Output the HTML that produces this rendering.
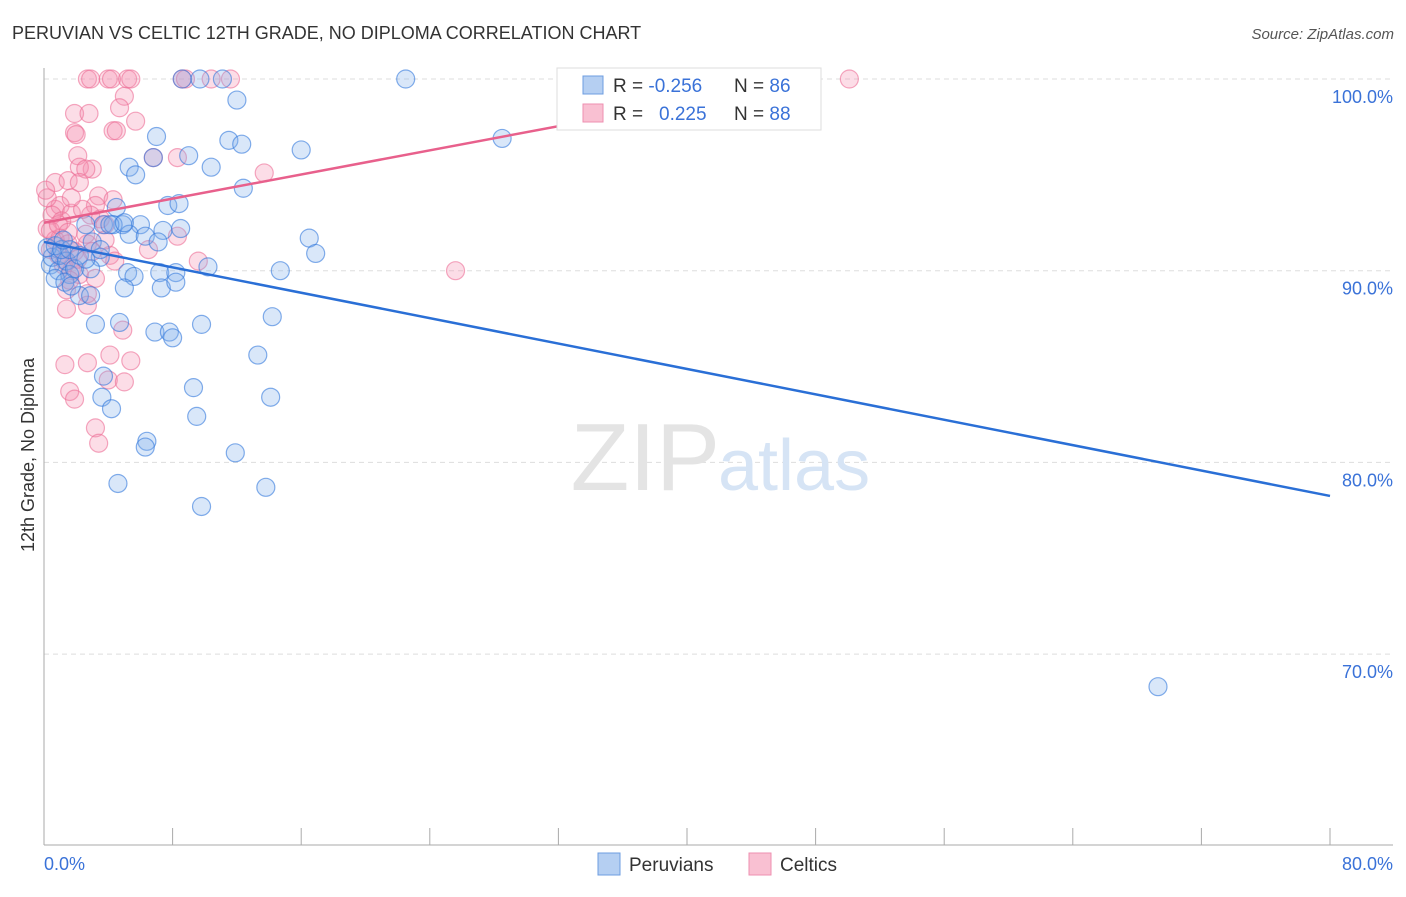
<!DOCTYPE html>
<html><head><meta charset="utf-8"><style>
body{margin:0;background:#fff;font-family:"Liberation Sans",sans-serif;}
svg text{font-family:"Liberation Sans",sans-serif;}
</style></head><body>
<svg width="1406" height="892" xmlns="http://www.w3.org/2000/svg">
<text x="12" y="39" font-size="18" fill="#333">PERUVIAN VS CELTIC 12TH GRADE, NO DIPLOMA CORRELATION CHART</text>
<text x="1394" y="39" font-size="15" fill="#555" text-anchor="end" font-style="italic">Source: ZipAtlas.com</text>
<g id="grid"></g>
<text x="720" y="490" font-size="96" fill="#e4e4e4" font-family="Liberation Serif" text-anchor="end">ZIP</text>
<text x="718" y="490" font-size="72" fill="#d6e4f5">atlas</text>
<g id="pts"></g>
<g id="lines"></g>
<text transform="translate(34,455) rotate(-90)" font-size="18" fill="#333" text-anchor="middle">12th Grade, No Diploma</text>
<text x="44" y="870" font-size="18" fill="#3a72d8">0.0%</text>
<text x="1393" y="870" font-size="18" fill="#3a72d8" text-anchor="end">80.0%</text>
<g>
<rect x="557" y="68" width="264" height="62" fill="#fff" stroke="#ddd"/>
<rect x="583" y="76" width="20" height="18" fill="#b5cff2" stroke="#6d9ce0"/>
<rect x="583" y="104" width="20" height="18" fill="#f9c0d2" stroke="#ee8fb0"/>
<text x="613" y="92" font-size="19" fill="#333">R = <tspan fill="#3a72d8">-0.256</tspan></text>
<text x="734" y="92" font-size="19" fill="#333">N = <tspan fill="#3a72d8">86</tspan></text>
<text x="613" y="120" font-size="19" fill="#333">R = <tspan fill="#3a72d8" x="659">0.225</tspan></text>
<text x="734" y="120" font-size="19" fill="#333">N = <tspan fill="#3a72d8">88</tspan></text>
</g>
<g>
<rect x="598" y="853" width="22" height="22" fill="#b5cff2" stroke="#6d9ce0"/>
<text x="629" y="871" font-size="19" fill="#333">Peruvians</text>
<rect x="749" y="853" width="22" height="22" fill="#f9c0d2" stroke="#ee8fb0"/>
<text x="780" y="871" font-size="19" fill="#333">Celtics</text>
</g>
</svg>
<script>
const yTicks=[100,90,80,70];
const yTickLabels=["100.0%","90.0%","80.0%","70.0%"];
const peruX=[22.5,11.1,8.6,9.7,12.0,7.0,11.5,12.3,16.0,28.5,5.3,10.4,5.7,6.8,9.0,12.4,7.7,8.4,4.5,2.6,3.7,4.9,6.0,4.3,5.3,7.4,8.5,6.3,7.1,3.0,16.5,16.9,14.7,10.2,3.5,5.2,7.2,8.2,5.6,5.0,7.3,8.2,2.2,2.9,3.2,4.7,6.9,7.8,8.0,9.8,14.2,13.3,3.7,9.3,3.6,4.2,14.1,9.5,6.4,6.3,11.9,4.6,13.8,9.8,69.3,0.4,0.5,0.9,1.0,1.4,1.6,1.9,0.2,0.7,1.1,1.6,2.2,2.9,3.5,0.7,1.3,1.7,2.6,4.1,5.0,1.2];
const peruY=[100,100,100,100,98.9,97.0,96.8,96.6,96.3,96.9,95.4,95.4,95.0,95.9,96.0,94.3,93.4,93.5,93.3,92.4,92.4,92.4,92.4,92.4,91.9,92.1,92.2,91.8,91.5,91.5,91.7,90.9,90.0,90.2,90.7,89.9,89.9,89.9,89.7,89.1,89.1,89.4,88.7,88.7,87.2,87.3,86.8,86.8,86.5,87.2,87.6,85.6,84.5,83.9,83.4,82.8,83.4,82.4,81.1,80.8,80.5,78.9,78.7,77.7,68.3,90.3,90.7,90.0,90.8,90.5,89.8,90.1,91.2,91.3,91.1,91.1,90.8,90.1,91.1,89.6,89.4,89.2,90.6,92.4,92.5,91.6];
const celtX=[2.7,2.9,4.0,4.2,5.2,5.4,8.6,8.8,10.4,11.6,50.1,5.0,4.7,5.7,1.9,2.8,1.9,2.0,4.3,4.5,2.1,3.0,2.2,2.6,6.8,8.3,13.7,0.7,1.5,2.2,3.4,4.3,3.2,2.9,0.7,1.0,0.2,0.5,1.1,1.7,2.4,3.5,3.8,1.7,0.2,0.7,1.0,1.5,1.9,2.7,1.3,1.7,2.2,3.2,1.4,2.7,1.4,2.7,9.6,25.6,8.3,6.5,4.1,5.4,1.3,2.7,4.9,4.0,5.0,1.6,1.9,3.2,3.4,0.1,0.4,0.9,1.5,2.6,3.0,4.1,4.4,0.9,1.2,2.1,0.4,3.8,1.6];
const celtY=[100,100,100,100,100,100,100,100,100,100,100,99.1,98.5,97.8,98.2,98.2,97.2,97.1,97.3,97.3,96.0,95.3,95.4,95.3,95.9,95.9,95.1,94.6,94.7,94.6,93.9,93.7,93.4,92.9,93.2,93.4,93.8,92.9,92.6,93.0,93.2,92.7,92.4,93.8,92.2,91.6,91.7,91.4,91.0,91.4,90.5,90.0,89.8,89.6,89.0,88.8,88.0,88.2,90.5,90.0,91.8,91.1,85.6,85.3,85.1,85.2,86.9,84.3,84.2,83.7,83.3,81.8,81.0,94.2,92.1,92.4,92.0,91.9,91.0,90.8,90.5,90.8,90.3,90.6,91.1,91.6,89.5];
const peruTrend=[[0,91.5],[80,78.25]];
const celtTrend=[[0,92.5],[47,99.9]];
const xs=v=>44+v*1286/80;
const ys=v=>79+(100-v)*19.17;
const NS="http://www.w3.org/2000/svg";
function mk(tag,attrs,parent){const e=document.createElementNS(NS,tag);for(const k in attrs)e.setAttribute(k,attrs[k]);parent.appendChild(e);return e;}
const grid=document.getElementById('grid');
yTicks.forEach((t,i)=>{
 const l=mk('line',{x1:44,x2:1393,y1:ys(t),y2:ys(t),stroke:'#ddd','stroke-dasharray':'5,4'},grid);
 
 
 const tx=mk('text',{x:1393,y:ys(t)+24,'font-size':18,fill:'#3a72d8','text-anchor':'end'},grid);
 tx.textContent=yTickLabels[i];
 
 
});
const ax=mk('line',{x1:44,x2:44,y1:68,y2:845,stroke:'#aaa'},grid);


const bx=mk('line',{x1:44,x2:1393,y1:845,y2:845,stroke:'#aaa'},grid);


for(let i=1;i<=10;i++){
 const tk=mk('line',{x1:xs(i*8),x2:xs(i*8),y1:828,y2:845,stroke:'#aaa'},grid);
 
 
}
const pts=document.getElementById('pts');
celtX.forEach((x,i)=>{
 const c=mk('circle',{cx:xs(x),cy:ys(celtY[i]),r:9,fill:'rgba(244,143,177,0.3)',stroke:'rgba(236,110,150,0.6)','stroke-width':1.2},pts);
 
 
});
peruX.forEach((x,i)=>{
 const c=mk('circle',{cx:xs(x),cy:ys(peruY[i]),r:9,fill:'rgba(130,175,235,0.3)',stroke:'rgba(50,120,220,0.6)','stroke-width':1.2},pts);
 
 
});
const lines=document.getElementById('lines');
const pl=mk('line',{x1:xs(celtTrend[0][0]),y1:ys(celtTrend[0][1]),x2:xs(celtTrend[1][0]),y2:ys(celtTrend[1][1]),stroke:'#e8608c','stroke-width':2.5},lines);


const bl=mk('line',{x1:xs(peruTrend[0][0]),y1:ys(peruTrend[0][1]),x2:xs(peruTrend[1][0]),y2:ys(peruTrend[1][1]),stroke:'#2a6fd6','stroke-width':2.5},lines);


</script>
</body></html>
